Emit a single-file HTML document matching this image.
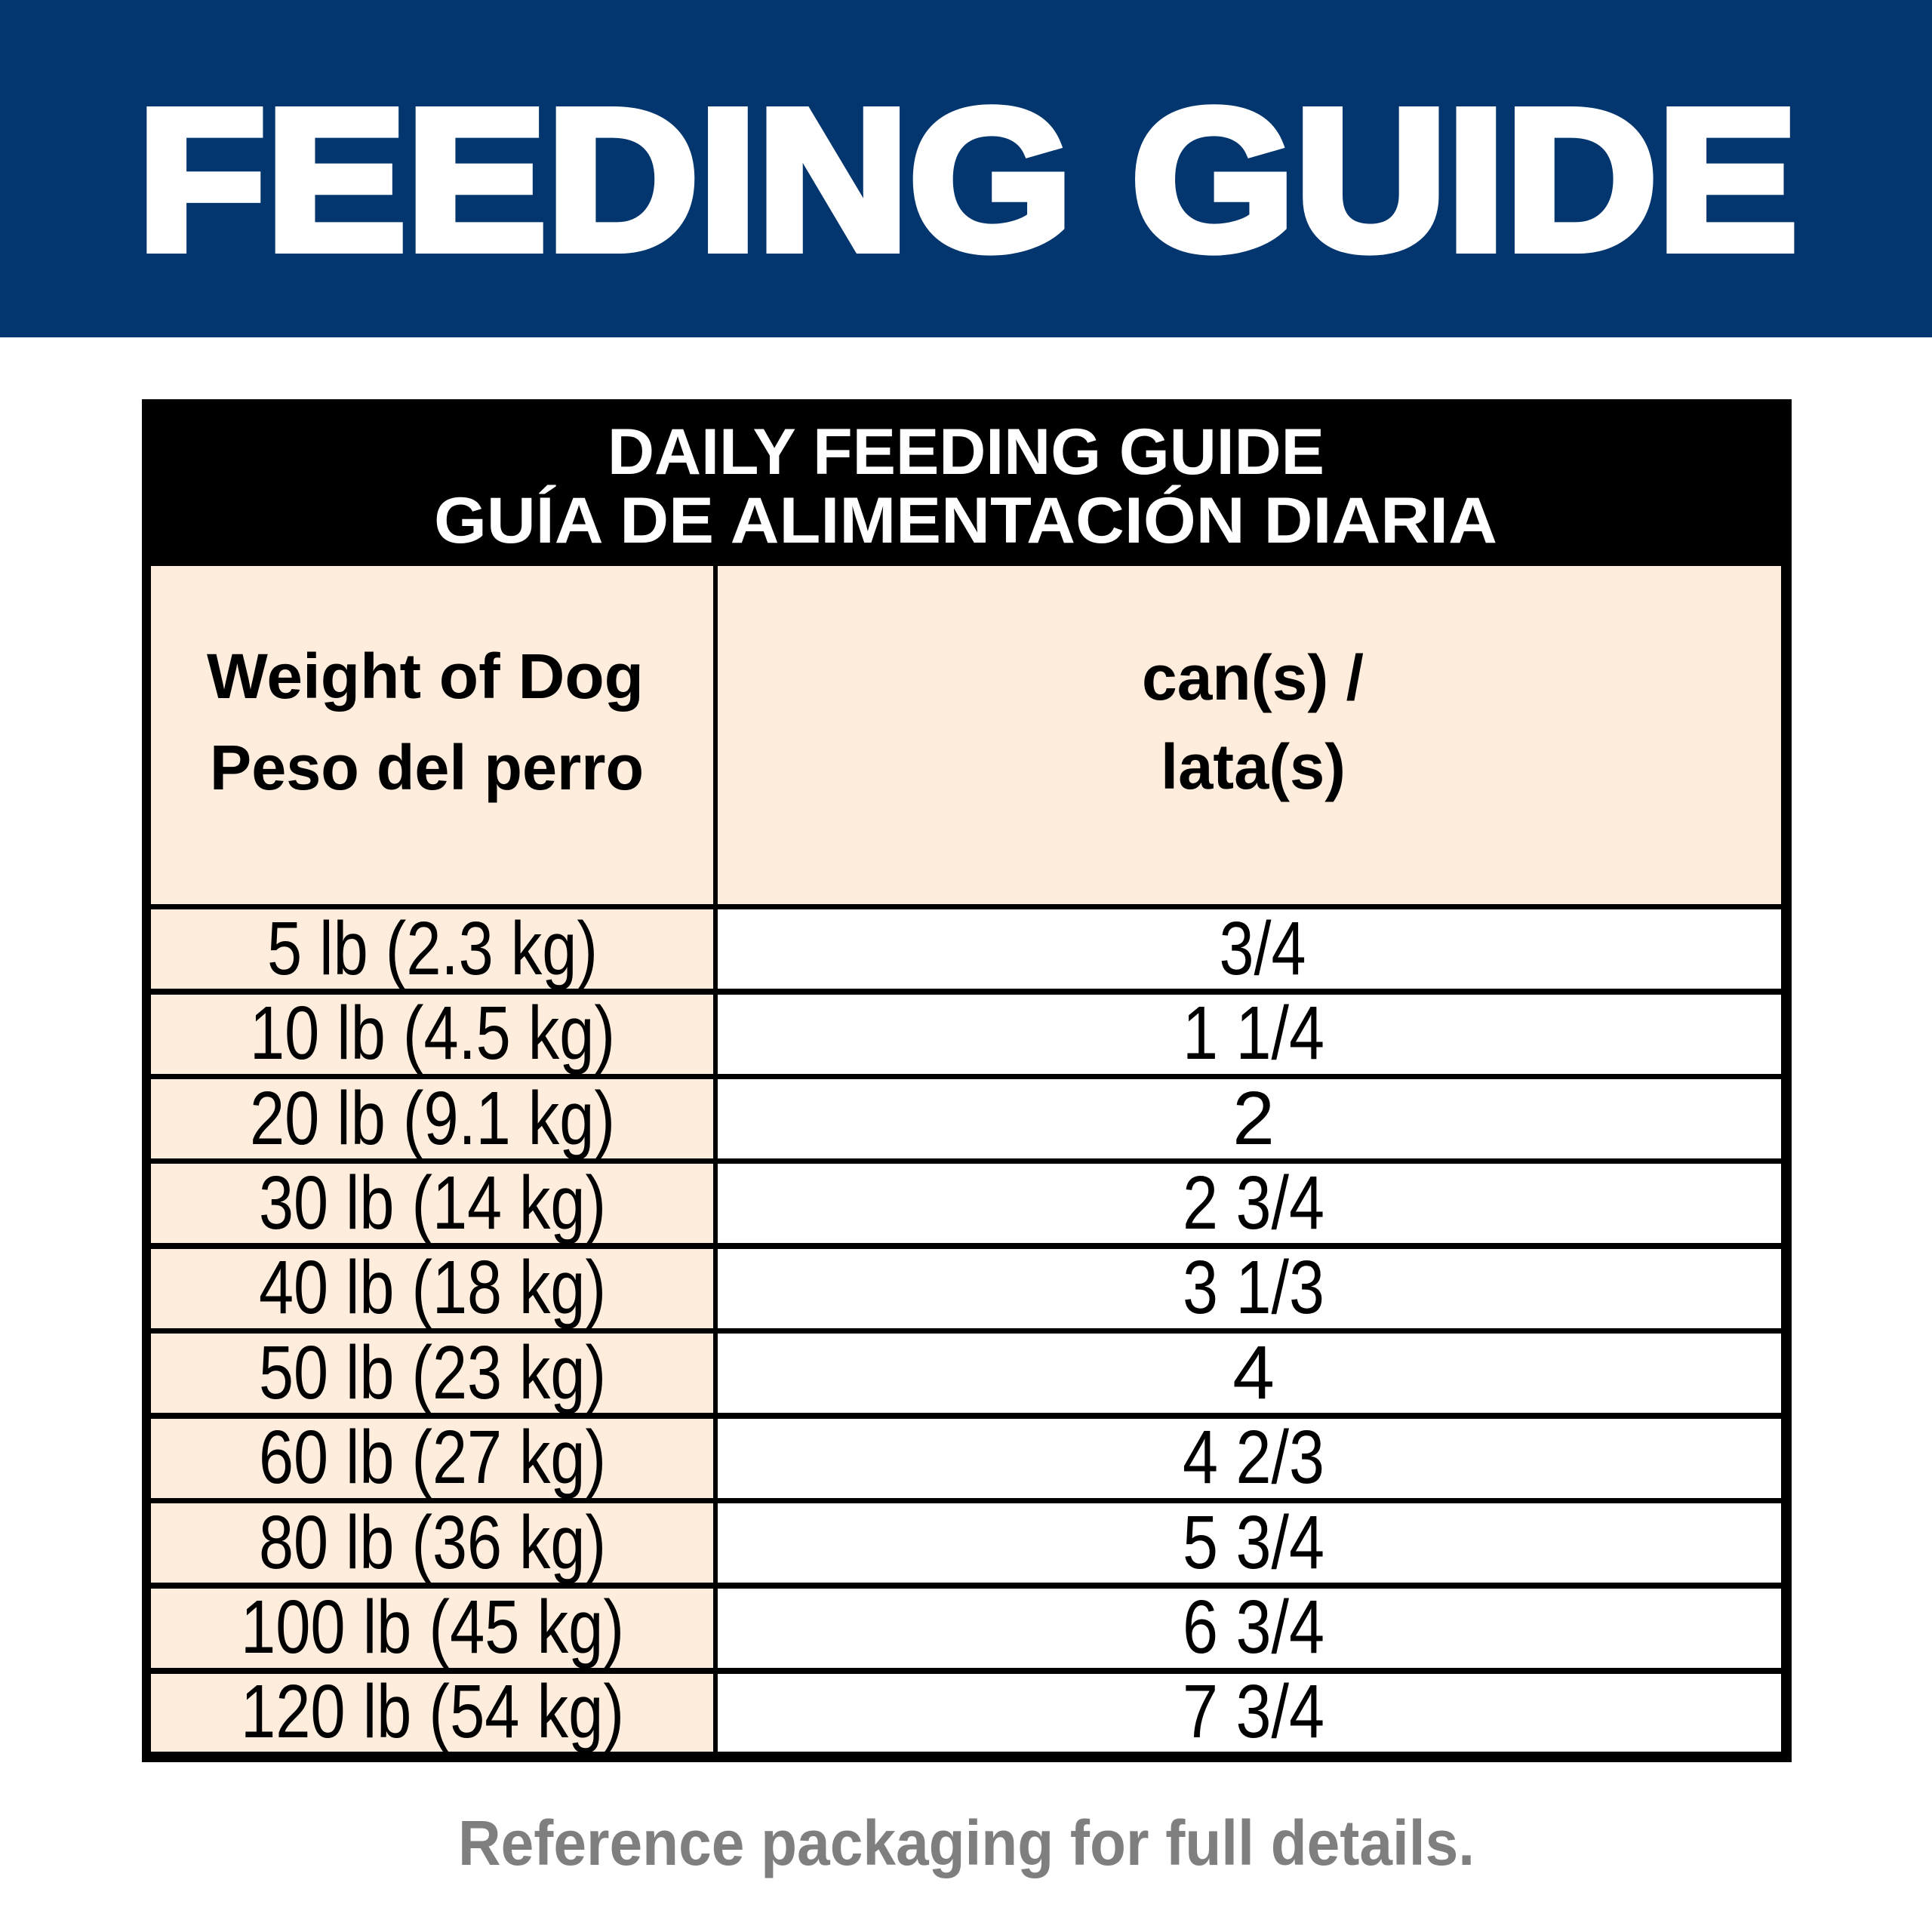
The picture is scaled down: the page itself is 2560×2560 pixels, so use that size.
<!DOCTYPE html>
<html><head><meta charset="utf-8"><style>html,body{margin:0;padding:0;background:#fff}svg{display:block}</style></head>
<body>
<svg width="2560" height="2560" viewBox="0 0 2560 2560" xmlns="http://www.w3.org/2000/svg">
<rect x="0" y="0" width="2560" height="447" fill="#03366f"/>
<text x="182" y="330" font-family="Liberation Sans, sans-serif" font-weight="bold" font-size="266" fill="#fff" stroke="#fff" stroke-width="12" stroke-linejoin="miter" textLength="2200" lengthAdjust="spacingAndGlyphs">FEEDING GUIDE</text>

<rect x="188" y="529" width="2186" height="1806" fill="#000"/>
<g font-family="Liberation Sans, sans-serif" font-weight="bold" fill="#fff" font-size="86">
<text x="805" y="628" textLength="950" lengthAdjust="spacingAndGlyphs">DAILY FEEDING GUIDE</text>
<text x="575" y="719" textLength="1409" lengthAdjust="spacingAndGlyphs">GUÍA DE ALIMENTACIÓN DIARIA</text>
</g>
<rect x="200" y="750" width="745" height="448" fill="#feecdc"/>
<rect x="951" y="750" width="1409" height="448" fill="#feecdc"/>
<g font-family="Liberation Sans, sans-serif" font-weight="bold" fill="#000" font-size="84">
<text x="274" y="925" textLength="579" lengthAdjust="spacingAndGlyphs">Weight of Dog</text>
<text x="278" y="1046" textLength="575" lengthAdjust="spacingAndGlyphs">Peso del perro</text>
<text x="1513" y="927" textLength="294" lengthAdjust="spacingAndGlyphs">can(s) /</text>
<text x="1538" y="1045" textLength="245" lengthAdjust="spacingAndGlyphs">lata(s)</text>
</g>

<g fill="#feecdc">
<rect x="200" y="1205" width="745" height="105"/>
<rect x="200" y="1318" width="745" height="105"/>
<rect x="200" y="1430" width="745" height="105"/>
<rect x="200" y="1542" width="745" height="105"/>
<rect x="200" y="1655" width="745" height="105"/>
<rect x="200" y="1767" width="745" height="105"/>
<rect x="200" y="1880" width="745" height="105"/>
<rect x="200" y="1992" width="745" height="105"/>
<rect x="200" y="2105" width="745" height="105"/>
<rect x="200" y="2218" width="745" height="103"/>
</g>
<g fill="#fff">
<rect x="951" y="1205" width="1409" height="105"/>
<rect x="951" y="1318" width="1409" height="105"/>
<rect x="951" y="1430" width="1409" height="105"/>
<rect x="951" y="1542" width="1409" height="105"/>
<rect x="951" y="1655" width="1409" height="105"/>
<rect x="951" y="1767" width="1409" height="105"/>
<rect x="951" y="1880" width="1409" height="105"/>
<rect x="951" y="1992" width="1409" height="105"/>
<rect x="951" y="2105" width="1409" height="105"/>
<rect x="951" y="2218" width="1409" height="103"/>
</g>

<g font-family="Liberation Sans, sans-serif" fill="#000" font-size="100" text-anchor="middle">
<text x="573" y="1291" textLength="438" lengthAdjust="spacingAndGlyphs">5 lb (2.3 kg)</text>
<text x="573" y="1403" textLength="484" lengthAdjust="spacingAndGlyphs">10 lb (4.5 kg)</text>
<text x="573" y="1516" textLength="484" lengthAdjust="spacingAndGlyphs">20 lb (9.1 kg)</text>
<text x="573" y="1628" textLength="460" lengthAdjust="spacingAndGlyphs">30 lb (14 kg)</text>
<text x="573" y="1740" textLength="460" lengthAdjust="spacingAndGlyphs">40 lb (18 kg)</text>
<text x="573" y="1853" textLength="460" lengthAdjust="spacingAndGlyphs">50 lb (23 kg)</text>
<text x="573" y="1965" textLength="460" lengthAdjust="spacingAndGlyphs">60 lb (27 kg)</text>
<text x="573" y="2078" textLength="460" lengthAdjust="spacingAndGlyphs">80 lb (36 kg)</text>
<text x="573" y="2190" textLength="508" lengthAdjust="spacingAndGlyphs">100 lb (45 kg)</text>
<text x="573" y="2302" textLength="508" lengthAdjust="spacingAndGlyphs">120 lb (54 kg)</text>

<text x="1673" y="1291" textLength="115" lengthAdjust="spacingAndGlyphs">3/4</text>
<text x="1661" y="1403" textLength="188" lengthAdjust="spacingAndGlyphs">1 1/4</text>
<text x="1661" y="1516">2</text>
<text x="1661" y="1628" textLength="188" lengthAdjust="spacingAndGlyphs">2 3/4</text>
<text x="1661" y="1740" textLength="188" lengthAdjust="spacingAndGlyphs">3 1/3</text>
<text x="1661" y="1853">4</text>
<text x="1661" y="1965" textLength="188" lengthAdjust="spacingAndGlyphs">4 2/3</text>
<text x="1661" y="2078" textLength="188" lengthAdjust="spacingAndGlyphs">5 3/4</text>
<text x="1661" y="2190" textLength="188" lengthAdjust="spacingAndGlyphs">6 3/4</text>
<text x="1661" y="2302" textLength="188" lengthAdjust="spacingAndGlyphs">7 3/4</text>
</g>

<text x="607" y="2471" font-family="Liberation Sans, sans-serif" font-weight="bold" font-size="84" fill="#7f7f7f" textLength="1347" lengthAdjust="spacingAndGlyphs">Reference packaging for full details.</text>
</svg>
</body></html>
